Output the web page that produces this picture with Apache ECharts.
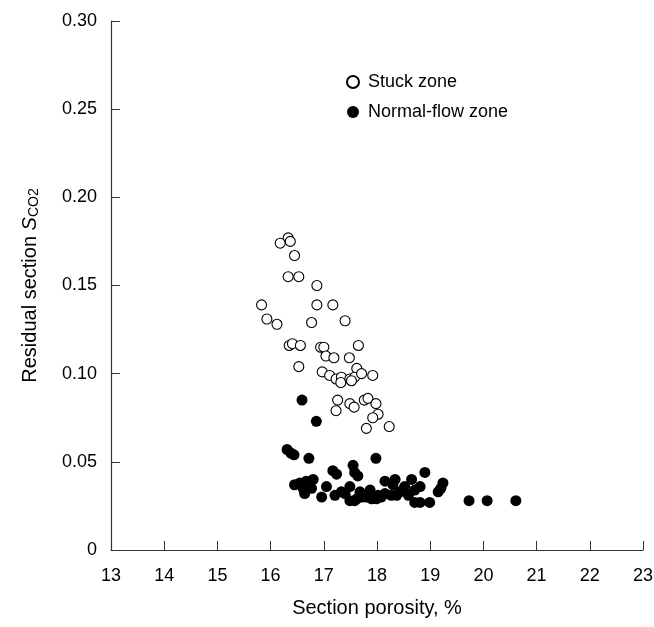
<!DOCTYPE html>
<html>
<head>
<meta charset="utf-8">
<script src="https://cdn.jsdelivr.net/npm/echarts@6/dist/echarts.min.js"></script>
<style>
  html, body { margin: 0; padding: 0; background: #fff; }
  #chart { width: 654px; height: 627px; }
</style>
</head>
<body>
<div id="chart"></div>
<script>
  // section porosity (%), residual CO2 saturation
  var stuckZone = [
    [16.33, 0.177], [16.18, 0.174], [16.37, 0.175], [16.45, 0.167],
    [16.33, 0.155], [16.53, 0.155], [16.87, 0.150], [15.83, 0.139],
    [16.87, 0.139], [17.17, 0.139], [15.93, 0.131], [16.12, 0.128],
    [16.77, 0.129], [17.40, 0.130], [16.35, 0.116], [16.41, 0.117],
    [16.56, 0.116], [16.94, 0.115], [17.00, 0.115], [17.65, 0.116],
    [17.04, 0.110], [17.19, 0.109], [17.48, 0.109], [16.53, 0.104],
    [17.62, 0.103], [16.97, 0.101], [17.11, 0.099], [17.23, 0.097],
    [17.33, 0.098], [17.32, 0.095], [17.49, 0.097], [17.58, 0.098],
    [17.71, 0.100], [17.92, 0.099], [17.52, 0.096], [17.26, 0.085],
    [17.49, 0.083], [17.57, 0.081], [17.76, 0.085], [17.83, 0.086],
    [17.98, 0.083], [17.23, 0.079], [18.02, 0.077], [17.92, 0.075],
    [17.80, 0.069], [18.23, 0.070]
  ];

  var normalZone = [
    [16.59, 0.085], [16.86, 0.073], [16.31, 0.057], [16.44, 0.054],
    [16.38, 0.055], [16.72, 0.052], [17.98, 0.052], [17.17, 0.045],
    [17.24, 0.043], [17.55, 0.048], [17.58, 0.044], [17.64, 0.042],
    [16.45, 0.037], [16.55, 0.038], [16.61, 0.035], [16.67, 0.039],
    [16.80, 0.040], [16.77, 0.035], [16.64, 0.032], [16.96, 0.030],
    [17.05, 0.036], [17.21, 0.031], [17.33, 0.033], [17.49, 0.036],
    [17.58, 0.028], [17.68, 0.033], [17.80, 0.030], [17.87, 0.034],
    [17.99, 0.029], [18.15, 0.039], [18.15, 0.032], [18.30, 0.037],
    [18.37, 0.031], [17.49, 0.028], [17.62, 0.029], [17.90, 0.029],
    [18.08, 0.030], [17.40, 0.032], [17.72, 0.030], [18.02, 0.031],
    [18.34, 0.040], [18.43, 0.033], [18.65, 0.040], [18.52, 0.036],
    [18.71, 0.034], [18.81, 0.036], [18.90, 0.044], [18.71, 0.027],
    [18.81, 0.027], [18.99, 0.027], [19.15, 0.033], [19.24, 0.038],
    [19.20, 0.035], [18.27, 0.031], [18.59, 0.031], [19.73, 0.028],
    [20.07, 0.028], [20.61, 0.028]
  ];

  var xRange = [13, 23];
  var yRange = [0, 0.30];

  var font = 'Liberation Sans, Arial, sans-serif';
  var axisColor = '#333';

  var chart = echarts.init(document.getElementById('chart'), null, { renderer: 'canvas' });

  chart.setOption({
    animation: false,
    backgroundColor: '#fff',
    textStyle: { fontFamily: font, color: '#000' },
    grid: { left: 111, right: 11, top: 21, bottom: 77, containLabel: false, outerBoundsMode: 'none' },
    legend: {
      orient: 'vertical',
      left: 341,
      top: 68,
      itemWidth: 12,
      itemHeight: 12,
      itemGap: 12,
      textStyle: { fontFamily: font, fontSize: 18, color: '#000', padding: [0, 0, 0, 4] },
      data: ['Stuck zone', 'Normal-flow zone']
    },
    xAxis: {
      type: 'value',
      min: xRange[0],
      max: xRange[1],
      interval: 1,
      name: 'Section porosity, %',
      nameLocation: 'middle',
      nameGap: 48,
      nameTextStyle: { fontFamily: font, fontSize: 20, color: '#000' },
      splitLine: { show: false },
      axisLine: { lineStyle: { color: axisColor, width: 1.2 } },
      axisTick: { inside: true, length: 9, lineStyle: { color: axisColor } },
      axisLabel: { fontFamily: font, fontSize: 18, color: '#000', margin: 17 }
    },
    yAxis: {
      type: 'value',
      min: yRange[0],
      max: yRange[1],
      interval: 0.05,
      name: 'Residual section {i|S}{sub|CO2}',
      nameLocation: 'middle',
      nameGap: 70,
      nameTextStyle: {
        fontFamily: font, fontSize: 20, color: '#000',
        rich: {
          i: { fontFamily: font, fontSize: 20, fontStyle: 'italic', color: '#000' },
          sub: { fontFamily: font, fontSize: 14, color: '#000', verticalAlign: 'bottom', padding: [8, 0, 0, 0] }
        }
      },
      splitLine: { show: false },
      axisLine: { lineStyle: { color: axisColor, width: 1.2 } },
      axisTick: { inside: true, length: 9, lineStyle: { color: axisColor } },
      axisLabel: {
        fontFamily: font, fontSize: 18, color: '#000', margin: 14,
        formatter: function (v) { return v === 0 ? '0' : v.toFixed(2); }
      }
    },
    series: [
      {
        name: 'Stuck zone',
        type: 'scatter',
        symbol: 'circle',
        symbolSize: 10,
        itemStyle: { color: '#fff', borderColor: '#000', borderWidth: 1.1, opacity: 1 },
        data: stuckZone,
        z: 3
      },
      {
        name: 'Normal-flow zone',
        type: 'scatter',
        symbol: 'circle',
        symbolSize: 11,
        itemStyle: { color: '#000', opacity: 1 },
        data: normalZone,
        z: 2
      }
    ]
  });
</script>
</body>
</html>
